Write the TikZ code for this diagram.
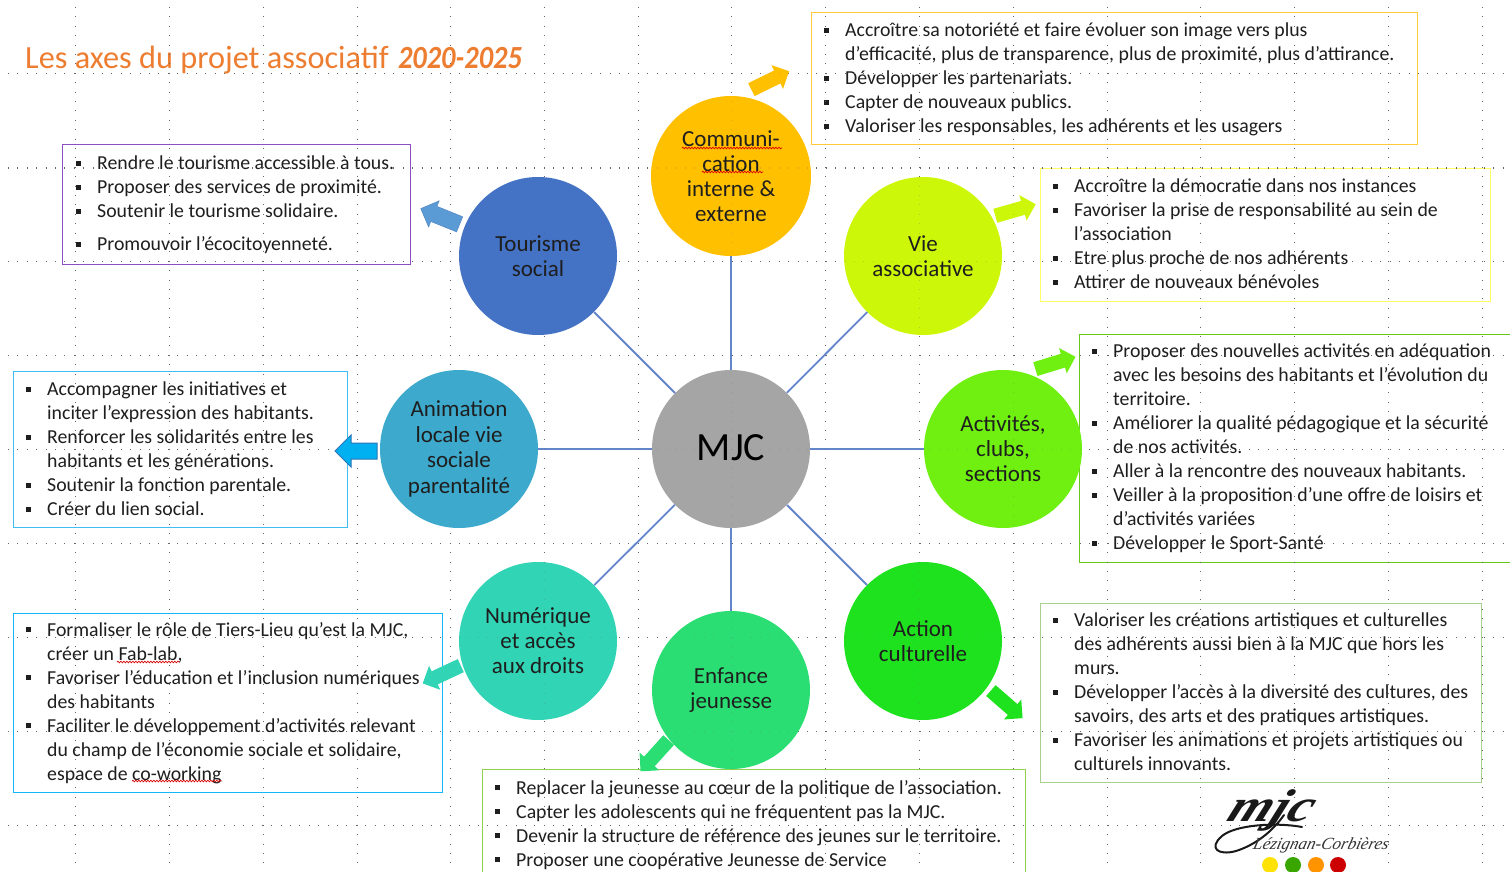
\documentclass[tikz,border=0pt]{standalone}
\usepackage{fontspec}
\setmainfont{Carlito}
\newfontfamily\logofont{Liberation Serif}
\usetikzlibrary{shapes.arrows,decorations.pathmorphing}
\definecolor{txt}{HTML}{1E1E1E}
\definecolor{titlec}{HTML}{ED7D31}
\definecolor{linkc}{HTML}{6385CC}
\definecolor{griddot}{HTML}{666666}
\definecolor{ccomm}{HTML}{FFC000}
\definecolor{ctour}{HTML}{4472C4}
\definecolor{cvie}{HTML}{CDF709}
\definecolor{canim}{HTML}{3DA9CC}
\definecolor{cact}{HTML}{70F010}
\definecolor{cnum}{HTML}{31D5B5}
\definecolor{cenf}{HTML}{2BDE73}
\definecolor{ccult}{HTML}{1FE21F}
\definecolor{cmjc}{HTML}{A5A5A5}
\definecolor{atour}{HTML}{5B9BD5}
\definecolor{atourb}{HTML}{5082BE}
\definecolor{aanim}{HTML}{00B0F0}
\definecolor{aanimb}{HTML}{2E75B6}
\definecolor{lcomm}{HTML}{FFCB3C}
\definecolor{ltour}{HTML}{8A50C0}
\definecolor{lvie}{HTML}{FFFF66}
\definecolor{lact}{HTML}{66C71C}
\definecolor{lanim}{HTML}{40BEF0}
\definecolor{lnum}{HTML}{10B8F5}
\definecolor{lcult}{HTML}{A9D18E}
\definecolor{lenf}{HTML}{92D050}
\newcommand\bl{\makebox[21pt][l]{\rule[4pt]{5pt}{5pt}}}
\newcommand\ct{\hspace*{21pt}}
\tikzset{
  x=1pt,y=-1pt,
  axe/.style={circle,fill=#1,minimum size=158pt,inner sep=0pt,align=center,text=txt,
    font=\fontsize{23}{25}\selectfont},
  link/.style={draw=linkc,line width=1.8pt},
  listbox/.style={draw=#1,line width=1pt,anchor=north west,inner sep=0pt},
  listtext/.style={anchor=north west,inner sep=0pt,align=left,text=txt,
    font=\fontsize{19.8}{24}\selectfont},
  blockarrow/.style={single arrow,fill=#1,inner sep=0pt,minimum height=42pt,
    single arrow head extend=6pt,single arrow tip angle=90},
  griddots/.style={griddot,line width=1pt,dash pattern=on 1pt off 8.4pt},
  squiggle/.style={draw=red!85!black,line width=.7pt,decorate,
    decoration={snake,amplitude=.8pt,segment length=3pt}}
}
\newcommand\shaft[1]{\rule{0pt}{#1pt}}
\newcommand\griddraw{%
  \foreach \gx in {75,169,263,357,450,544,638,731,825,919,1013,1107,1200,1294,1388,1482}
    \draw[griddots] (\gx,7) -- (\gx,872);
  \foreach \gy in {74,168,261,355,449,543,637,731,825}
    \draw[griddots] (8,\gy) -- (1510,\gy);
}
\begin{document}
\begin{tikzpicture}
\useasboundingbox (0,0) rectangle (1510,872);
\clip (0,0) rectangle (1510,872);
\fill[white] (0,0) rectangle (1510,872);

% title
\node[anchor=base west,inner sep=0pt,text=titlec,font=\fontsize{32.3}{32}\selectfont] (title) at (25,69)
  {Les axes du projet associatif \hspace{2pt}\scalebox{.88}[1]{\textbf{\textit{2020-2025}}}};

% list boxes
\node[listbox=lcomm,minimum width=606pt,minimum height=132pt] (bcomm) at (811,12) {};
\node[listbox=ltour,minimum width=348pt,minimum height=120pt] (btour) at (62,144) {};
\node[listbox=lvie,minimum width=450pt,minimum height=133pt] (bvie) at (1040,168) {};
\node[listbox=lact,minimum width=440pt,minimum height=228pt] (bact) at (1079,334) {};
\node[listbox=lanim,minimum width=334pt,minimum height=156pt] (banim) at (13,371) {};
\node[listbox=lnum,minimum width=429pt,minimum height=179pt] (bnum) at (13,613) {};
\node[listbox=lcult,minimum width=441pt,minimum height=179pt] (bcult) at (1040,603) {};
\node[listbox=lenf,minimum width=543pt,minimum height=130pt] (benf) at (482,769) {};

% list texts
\node[listtext] (tcomm) at (824,23) {\bl Accroître sa notoriété et faire évoluer son image vers plus\\
\ct d'efficacité, plus de transparence, plus de proximité, plus d'attirance.\\
\bl Développer les partenariats.\\
\bl Capter de nouveaux publics.\\
\bl Valoriser les responsables, les adhérents et les usagers};
\node[listtext] (ttour) at (76,156) {\bl Rendre le tourisme accessible à tous.\\
\bl Proposer des services de proximité.\\
\bl Soutenir le tourisme solidaire.\\[9pt]
\bl Promouvoir l’écocitoyenneté.};
\node[listtext] (tvie) at (1053,179) {\bl Accroître la démocratie dans nos instances\\
\bl Favoriser la prise de responsabilité au sein de\\
\ct l’association\\
\bl Etre plus proche de nos adhérents\\
\bl Attirer de nouveaux bénévoles};
\node[listtext] (tact) at (1092,344) {\bl Proposer des nouvelles activités en adéquation\\
\ct avec les besoins des habitants et l’évolution du\\
\ct territoire.\\
\bl Améliorer la qualité pédagogique et la sécurité\\
\ct de nos activités.\\
\bl Aller à la rencontre des nouveaux habitants.\\
\bl Veiller à la proposition d’une offre de loisirs et\\
\ct d’activités variées\\
\bl Développer le Sport-Santé};
\node[listtext] (tanim) at (26,382) {\bl Accompagner les initiatives et\\
\ct inciter l’expression des habitants.\\
\bl Renforcer les solidarités entre les\\
\ct habitants et les générations.\\
\bl Soutenir la fonction parentale.\\
\bl Créer du lien social.};
\node[listtext] (tnum) at (26,622) {\bl Formaliser le rôle de Tiers-Lieu qu’est la MJC,\\
\ct créer un Fab-lab,\\
\bl Favoriser l’éducation et l’inclusion numériques\\
\ct des habitants\\
\bl Faciliter le développement d’activités relevant\\
\ct du champ de l’économie sociale et solidaire,\\
\ct espace de co-working};
\node[listtext] (tcult) at (1053,613) {\bl Valoriser les créations artistiques et culturelles\\
\ct des adhérents aussi bien à la MJC que hors les\\
\ct murs.\\
\bl Développer l’accès à la diversité des cultures, des\\
\ct savoirs, des arts et des pratiques artistiques.\\
\bl Favoriser les animations et projets artistiques ou\\
\ct culturels innovants.};
\node[listtext] (tenf) at (495,780) {\bl Replacer la jeunesse au cœur de la politique de l’association.\\
\bl Capter les adolescents qui ne fréquentent pas la MJC.\\
\bl Devenir la structure de référence des jeunes sur le territoire.\\
\bl Proposer une coopérative Jeunesse de Service};

% grid of dots, under the circles
\griddraw

% circles
\node[axe=cmjc,font=\fontsize{40}{40}\selectfont,text=black] (mjc) at (731,449) {\raisebox{2pt}{MJC}};
\node[axe=ccomm,minimum size=160pt] (comm) at (731,176) {Communi-\\cation\\interne \&\\externe};
\node[axe=ctour] (tour) at (538,256) {Tourisme\\social};
\node[axe=cvie] (vie) at (923,256) {Vie\\associative};
\node[axe=canim,font=\fontsize{23}{25.5}\selectfont] (anim) at (459,449) {Animation\\locale vie\\sociale\\parentalité};
\node[axe=cact] (act) at (1003,449) {Activités,\\clubs,\\sections};
\node[axe=cnum] (num) at (538,641) {Numérique\\et accès\\aux droits};
\node[axe=cenf] (enf) at (731,690) {Enfance\\jeunesse};
\node[axe=ccult] (cult) at (923,641) {Action\\culturelle};

% connectors
\foreach \n in {comm,tour,vie,anim,act,num,enf,cult} \draw[link] (mjc) -- (\n);

% block arrows
\node[blockarrow=ccomm,rotate=26] (acomm) at (767,82) {\shaft{14}};
\node[blockarrow=atour,draw=atourb,rotate=158] (arrtour) at (444,218) {\shaft{16}};
\node[blockarrow=cvie,rotate=16] (avie) at (1012,211) {\shaft{14}};
\node[blockarrow=aanim,draw=aanimb,line width=1pt,single arrow head extend=8pt,rotate=180] (arranim) at (360,451) {\shaft{15}};
\node[blockarrow=cact,rotate=17] (aact) at (1052,364) {\shaft{14}};
\node[blockarrow=cnum,rotate=205] (anum) at (445,673) {\shaft{14}};
\node[blockarrow=cenf,rotate=228] (aenf) at (657,753) {\shaft{14}};
\node[blockarrow=ccult,rotate=-41] (acult) at (1004,702) {\shaft{14}};

% spell-check squiggles
\draw[squiggle] (682,148) -- (782,148);
\draw[squiggle] (702,172) -- (763,172);
\draw[squiggle] (117,662) -- (180,662);
\draw[squiggle] (132,781) -- (222,781);

% logo
\node[inner sep=0pt,text=black!90,font=\logofont\fontsize{46}{46}\selectfont\bfseries\itshape,xscale=1.2,xslant=.35] (logomjc) at (1272,810) {mjc};
\draw[black!90,line width=2pt,line cap=round]
  (1302,827) .. controls (1275,822) and (1235,825) .. (1222,836)
  .. controls (1208,848) and (1218,856) .. (1236,851)
  .. controls (1255,845) and (1272,832) .. (1284,815);
\node[inner sep=0pt,text=black!80,font=\logofont\fontsize{17}{17}\selectfont\itshape,xslant=.25] (logoname) at (1321,845) {Lézignan-Corbières};
\fill[yellow!85!orange] (1270,865) circle (8);
\fill[green!50!black!70!lime] (1293,865) circle (8);
\fill[orange!85!yellow] (1316,865) circle (8);
\fill[red!80!black] (1338,865) circle (8);

% faint grid over the circles
\begin{scope}[opacity=.25]
\griddraw
\end{scope}
\end{tikzpicture}
\end{document}
